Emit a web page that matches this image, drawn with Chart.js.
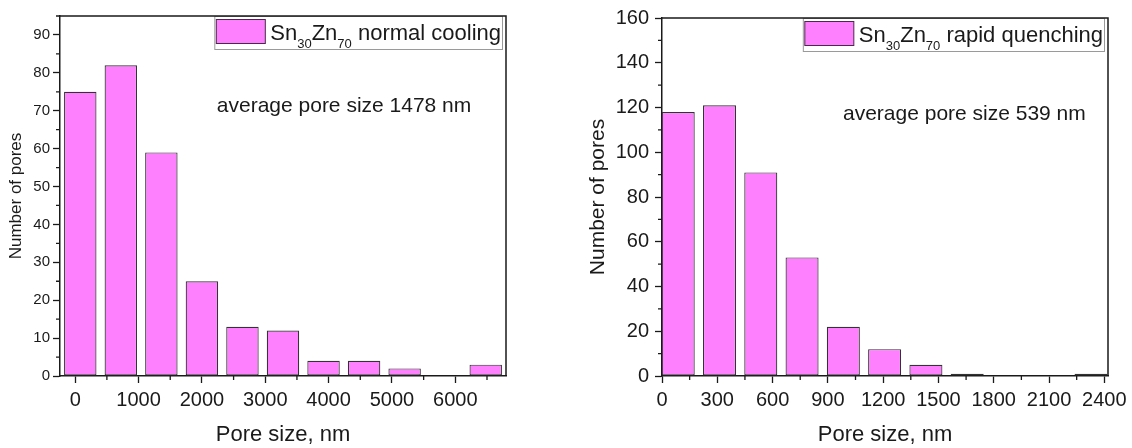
<!DOCTYPE html>
<html>
<head>
<meta charset="utf-8">
<script src="https://cdn.jsdelivr.net/npm/chart.js@4.4.0/dist/chart.umd.min.js"></script>
<style>
    html, body { margin: 0; padding: 0; background: #fff; }
    body { width: 1132px; height: 448px; position: relative; overflow: hidden; }
    .box { position: absolute; top: 0; height: 448px; }
    #normalBox { left: 0; width: 520px; }
    #rapidBox { left: 570px; width: 562px; }
</style>
</head>
<body>
<div class="box" id="normalBox"><canvas id="normalChart"></canvas></div>
<div class="box" id="rapidBox"><canvas id="rapidChart"></canvas></div>
<script>
// normal cooling histogram (bin centres in nm, counts)
const normalCenters = [80, 720, 1360, 2000, 2640, 3280, 3920, 4560, 5200, 5840, 6480];
const normalCounts = [75, 82, 59, 25, 13, 12, 4, 4, 2, 0, 3];
const normalXTicks = [0, 1000, 2000, 3000, 4000, 5000, 6000];
const normalXMinor = [500, 1500, 2500, 3500, 4500, 5500, 6500];
const normalYTicks = [0, 10, 20, 30, 40, 50, 60, 70, 80, 90];
const normalYMinor = [5, 15, 25, 35, 45, 55, 65, 75, 85, 95];

// rapid quenching histogram
const rapidCenters = [88, 312, 536, 760, 984, 1208, 1432, 1656, 1880, 2104, 2328];
const rapidCounts = [118, 121, 91, 53, 22, 12, 5, 1, 0, 0, 1];
const rapidXTicks = [0, 300, 600, 900, 1200, 1500, 1800, 2100, 2400];
const rapidXMinor = [150, 450, 750, 1050, 1350, 1650, 1950, 2250];
const rapidYTicks = [0, 20, 40, 60, 80, 100, 120, 140, 160];
const rapidYMinor = [10, 30, 50, 70, 90, 110, 130, 150];

const family = "'Liberation Sans', Arial, sans-serif";
const ink = '#1a1a1a';
const barFill = '#ff80ff';
const barEdge = '#333333';

Chart.defaults.font.family = family;
Chart.defaults.color = ink;

// frame, minor ticks, legend with subscripts and the average note
const poreDecor = {
    id: 'poreDecor',
    afterDraw(chart, args, opts) {
        const ctx = chart.ctx;
        const area = chart.chartArea;
        const xs = chart.scales.x, ys = chart.scales.y;
        ctx.save();

        ctx.strokeStyle = ink;
        ctx.lineWidth = 1.3;
        ctx.beginPath();
        opts.minorX.forEach(v => {
            const px = xs.getPixelForValue(v);
            ctx.moveTo(px, area.bottom);
            ctx.lineTo(px, area.bottom + 4);
        });
        opts.minorY.forEach(v => {
            const py = ys.getPixelForValue(v);
            ctx.moveTo(area.left, py);
            ctx.lineTo(area.left - 4, py);
        });
        ctx.stroke();

        // legend
        const mainFont = '22px ' + family, subFont = '13px ' + family;
        let w = 0;
        opts.label.forEach(p => {
            ctx.font = p[1] ? subFont : mainFont;
            w += ctx.measureText(p[0]).width;
        });
        const frameRight = area.right - 3;
        let tx = frameRight - 2 - w;
        const boxRight = tx - 5, boxLeft = boxRight - 49;
        ctx.strokeStyle = '#9a9a9a';
        ctx.lineWidth = 1;
        ctx.strokeRect(boxLeft - 1.5, area.top + 0.5, frameRight - boxLeft + 1, 33);
        ctx.fillStyle = barFill;
        ctx.fillRect(boxLeft, area.top + 3.5, 49, 24);
        ctx.strokeStyle = '#4a2a4a';
        ctx.strokeRect(boxLeft, area.top + 3.5, 49, 24);
        ctx.fillStyle = ink;
        ctx.textBaseline = 'alphabetic';
        ctx.textAlign = 'left';
        opts.label.forEach(p => {
            ctx.font = p[1] ? subFont : mainFont;
            ctx.fillText(p[0], tx, area.top + (p[1] ? 32 : 24));
            tx += ctx.measureText(p[0]).width;
        });

        // average pore size note
        ctx.font = '21px ' + family;
        ctx.textBaseline = 'middle';
        ctx.fillText(opts.note, xs.getPixelForValue(opts.noteAt[0]), ys.getPixelForValue(opts.noteAt[1]));

        // top and right frame
        ctx.strokeStyle = ink;
        ctx.lineWidth = 1.5;
        ctx.beginPath();
        ctx.moveTo(area.left, area.top);
        ctx.lineTo(area.right, area.top);
        ctx.lineTo(area.right, area.bottom);
        ctx.stroke();
        ctx.restore();
    }
};

function makeChart(id, cfg) {
    return new Chart(document.getElementById(id), {
        type: 'bar',
        data: {
            datasets: [{
                data: cfg.centers.map((c, i) => ({ x: c, y: cfg.counts[i] })),
                backgroundColor: barFill,
                borderColor: barEdge,
                borderWidth: 1.2,
                borderSkipped: false,
                categoryPercentage: 1,
                barPercentage: 0.8
            }]
        },
        options: {
            responsive: true,
            maintainAspectRatio: false,
            animation: false,
            layout: { padding: cfg.padding },
            plugins: {
                legend: { display: false },
                tooltip: { enabled: false },
                poreDecor: {
                    minorX: cfg.xMinor,
                    minorY: cfg.yMinor,
                    label: cfg.label,
                    note: cfg.note,
                    noteAt: cfg.noteAt
                }
            },
            scales: {
                x: {
                    type: 'linear',
                    offset: false,
                    min: cfg.xMin,
                    max: cfg.xMax,
                    afterBuildTicks: s => { s.ticks = cfg.xTicks.map(v => ({ value: v })); },
                    afterFit: s => { s.height = 72; },
                    ticks: { font: { size: 20 }, padding: 5, color: ink, callback: v => String(v), maxRotation: 0 },
                    grid: { offset: false, drawOnChartArea: false, tickLength: 7, tickColor: ink, tickWidth: 1.3 },
                    border: { color: ink, width: 1.5 },
                    title: { display: true, text: 'Pore size, nm', font: { size: 22 }, color: ink, padding: { top: 0, bottom: 0 } }
                },
                y: {
                    min: 0,
                    max: cfg.yMax,
                    afterBuildTicks: s => { s.ticks = cfg.yTicks.map(v => ({ value: v })); },
                    afterFit: s => { s.width = cfg.yWidth; },
                    ticks: { font: { size: cfg.yTickSize }, padding: cfg.yTickPad, color: ink, callback: v => String(v) },
                    grid: { drawOnChartArea: false, tickLength: 7, tickColor: ink, tickWidth: 1.3 },
                    border: { color: ink, width: 1.5 },
                    title: { display: true, text: 'Number of pores', font: { size: cfg.yTitleSize }, color: ink, padding: { top: cfg.yTitlePad, bottom: 0 } }
                }
            }
        },
        plugins: [poreDecor]
    });
}

makeChart('normalChart', {
    centers: normalCenters, counts: normalCounts,
    xTicks: normalXTicks, xMinor: normalXMinor, yTicks: normalYTicks, yMinor: normalYMinor,
    xMin: -240, xMax: 6800, yMax: 95,
    padding: { top: 16, right: 14, left: 0, bottom: 0 },
    yWidth: 60, yTickSize: 15, yTickPad: 3, yTitleSize: 17, yTitlePad: 6,
    label: [['Sn', false], ['30', true], ['Zn', false], ['70', true], [' normal cooling', false]],
    note: 'average pore size 1478 nm', noteAt: [2235, 71.2]
});

makeChart('rapidChart', {
    centers: rapidCenters, counts: rapidCounts,
    xTicks: rapidXTicks, xMinor: rapidXMinor, yTicks: rapidYTicks, yMinor: rapidYMinor,
    xMin: 0, xMax: 2420, yMax: 160,
    padding: { top: 17, right: 24, left: 0, bottom: 0 },
    yWidth: 92, yTickSize: 20, yTickPad: 6, yTitleSize: 21, yTitlePad: 16,
    label: [['Sn', false], ['30', true], ['Zn', false], ['70', true], [' rapid quenching', false]],
    note: 'average pore size 539 nm', noteAt: [982, 117]
});
</script>
</body>
</html>
